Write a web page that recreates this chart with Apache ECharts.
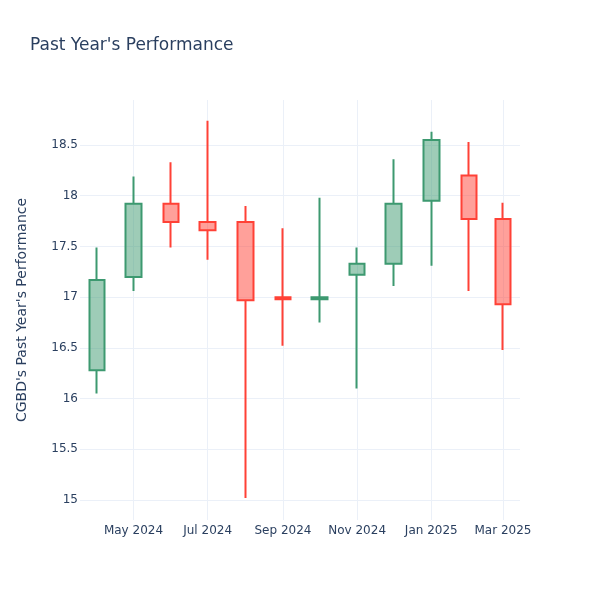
<!DOCTYPE html>
<html>
<head>
<meta charset="utf-8">
<script src="https://cdn.jsdelivr.net/npm/echarts@6/dist/echarts.min.js"></script>
<style>html,body{margin:0;padding:0;background:#fff}#c{width:600px;height:600px}</style>
</head>
<body>
<div id="c"></div>
<script>
const dates = ['2024-04-01','2024-05-01','2024-06-01','2024-07-01','2024-08-01','2024-09-01','2024-10-01','2024-11-01','2024-12-01','2025-01-01','2025-02-01','2025-03-01'];
const openV  = [16.28, 17.20, 17.92, 17.74, 17.74, 17.00, 16.98, 17.22, 17.33, 17.95, 18.20, 17.77];
const closeV = [17.17, 17.92, 17.74, 17.66, 16.97, 16.98, 17.00, 17.33, 17.92, 18.55, 17.77, 16.93];
const lowV   = [16.05, 17.06, 17.49, 17.37, 15.02, 16.52, 16.75, 16.10, 17.11, 17.31, 17.06, 16.48];
const highV  = [17.49, 18.19, 18.33, 18.74, 17.90, 17.68, 17.98, 17.49, 18.36, 18.63, 18.53, 17.93];
const xTickDates = ['2024-05-01','2024-07-01','2024-09-01','2024-11-01','2025-01-01','2025-03-01'];

function ts(s){const p=s.split('-').map(Number);return Date.UTC(p[0],p[1]-1,p[2]);}
const MONTHS=['Jan','Feb','Mar','Apr','May','Jun','Jul','Aug','Sep','Oct','Nov','Dec'];
const data = dates.map((d,i)=>[ts(d), openV[i], closeV[i], lowV[i], highV[i]]);
const xCustom = xTickDates.map(ts);

const chart = echarts.init(document.getElementById('c'), null, {renderer:'canvas'});
const font = 'DejaVu Sans';
const txt = '#2a3f5f';
chart.setOption({
  animation:false,
  backgroundColor:'#fff',
  title:{text:"Past Year's Performance", left:30, top:37, padding:0,
    textStyle:{fontFamily:font,fontSize:17,fontWeight:'normal',color:txt}},
  grid:{left:80,right:80,top:100,bottom:80,containLabel:false},
  xAxis:{type:'value', min:ts('2024-03-18'), max:ts('2025-03-15'),
    axisLine:{show:false}, axisTick:{show:false, customValues:xCustom},
    splitLine:{show:true, lineStyle:{color:'#EBF0F8',width:1}},
    axisLabel:{customValues:xCustom, fontFamily:font,fontSize:12,color:txt,margin:5,
      formatter:v=>{const d=new Date(v);return MONTHS[d.getUTCMonth()]+' '+d.getUTCFullYear();}}},
  yAxis:{type:'value', min:14.803, max:18.944, minInterval:0.5, maxInterval:0.5, splitNumber:8,
    name:"CGBD's Past Year's Performance", nameLocation:'middle', nameGap:51,
    nameTextStyle:{fontFamily:font,fontSize:14,color:txt},
    axisLine:{show:false}, axisTick:{show:false},
    splitLine:{show:true, showMinLine:false, showMaxLine:false, lineStyle:{color:'#EBF0F8',width:1}},
    axisLabel:{showMinLabel:false, showMaxLabel:false, fontFamily:font,fontSize:12,color:txt,margin:2,
      formatter:v=>String(Math.round(v*10)/10)}},
  series:[{type:'candlestick', data:data, barWidth:16,
    itemStyle:{color:'rgba(61,153,112,0.5)', color0:'rgba(255,65,54,0.5)',
      borderColor:'#3D9970', borderColor0:'#FF4136', borderWidth:2}}]
});
</script>
</body>
</html>
